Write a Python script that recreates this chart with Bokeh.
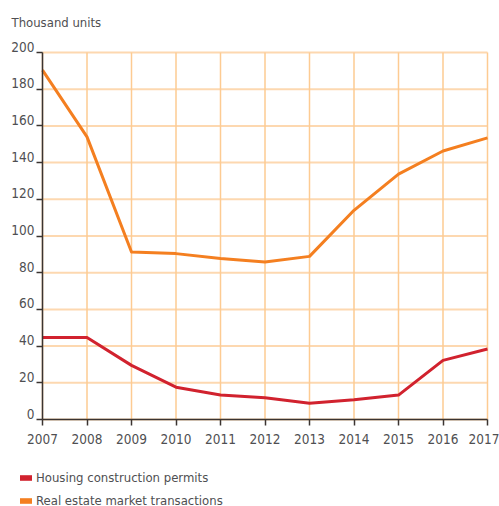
from bokeh.plotting import figure
from bokeh.models import (Range1d, ColumnDataSource, LabelSet, Label, Legend,
                          LegendItem, FixedTicker)
from bokeh.core.properties import value
from bokeh.embed import file_html
from bokeh.resources import INLINE

# Annual figures, thousand units
years = [2007, 2008, 2009, 2010, 2011, 2012, 2013, 2014, 2015, 2016, 2017]
permits = [44.7, 44.7, 29.5, 17.6, 13.3, 11.8, 8.9, 10.7, 13.3, 32.2, 38.4]
transactions = [190.4, 154.0, 91.3, 90.4, 87.7, 85.8, 88.9, 114.0, 133.7, 146.3, 153.5]

y_ticks = [0, 20, 40, 60, 80, 100, 120, 140, 160, 180, 200]
y_tick_labels = [str(t) for t in y_ticks]
unit_label = "Thousand units"
series_names = ["Housing construction permits", "Real estate market transactions"]

FONT = "DejaVu Sans Condensed, Liberation Sans Narrow, Roboto"
FS_TICK = "13.5px"
FS = "13px"
TEXT = "#4f4f52"
AXIS = "#3b3431"
GRID_V = "#fdcb92"
GRID_H = "#fdd8b0"
RED = "#d1222e"
ORANGE = "#f47f20"

# canvas size and the margins around the plotting area (pixels)
W, H = 499, 506
LEFT, RIGHT, TOP, BOTTOM = 42, 12, 52, 87

# The frame covers the whole canvas so that captions and the legend can sit
# in the margins; the data ranges are widened so the plotting area keeps
# its margins.
x0, x1 = years[0], years[-1]
y0, y1 = y_ticks[0], y_ticks[-1]
px_x = (W - LEFT - RIGHT) / (x1 - x0)
px_y = (H - TOP - BOTTOM) / (y1 - y0)
x_range = Range1d(x0 - LEFT / px_x, x1 + RIGHT / px_x)
y_range = Range1d(y0 - BOTTOM / px_y, y1 + TOP / px_y)

p = figure(width=W, height=H, output_backend="svg", toolbar_location=None,
           title=None, x_range=x_range, y_range=y_range,
           min_border_left=0, min_border_right=0, min_border_top=0,
           min_border_bottom=0)
p.outline_line_color = None
p.background_fill_color = "white"
p.border_fill_color = "white"
p.xgrid.visible = False
p.ygrid.visible = False

# grid lines limited to the plotting area
p.segment(x0=[x0] * len(y_ticks), y0=y_ticks, x1=[x1] * len(y_ticks), y1=y_ticks,
          line_color=GRID_H, line_width=2, level="underlay")
p.segment(x0=years, y0=[y0] * len(years), x1=years, y1=[y1] * len(years),
          line_color=GRID_V, line_width=1.5, level="underlay")

# axes pinned to the plotting area's edges
p.xaxis.fixed_location = y0
p.xaxis.bounds = (x0, x1)
p.yaxis.fixed_location = x0
p.yaxis.bounds = (y0, y1)
p.xaxis.ticker = FixedTicker(ticks=years)
p.yaxis.ticker = FixedTicker(ticks=y_ticks)
for ax in (p.xaxis, p.yaxis):
    ax.axis_line_color = AXIS
    ax.axis_line_width = 1.5
    ax.major_tick_line_color = AXIS
    ax.major_tick_line_width = 1.5
    ax.major_tick_out = 6
    ax.major_tick_in = 0
    ax.minor_tick_line_color = None
    ax.major_label_text_font = FONT
    ax.major_label_text_font_size = FS_TICK
    ax.major_label_text_color = TEXT
p.xaxis.major_label_standoff = 8
p.yaxis.major_label_overrides = {t: "" for t in y_ticks}

# y tick labels sit just above their tick marks
ysrc = ColumnDataSource(dict(x=[x0] * len(y_ticks), y=y_ticks, t=y_tick_labels))
p.add_layout(LabelSet(x="x", y="y", text="t", source=ysrc, x_offset=-8, y_offset=1,
                      text_align="right", text_baseline="alphabetic",
                      text_font=value(FONT), text_font_size=FS_TICK,
                      text_color=TEXT))

p.add_layout(Label(x=x0, y=y1, x_offset=-31, y_offset=30, text=unit_label,
                   text_align="left", text_baseline="middle",
                   text_font=FONT, text_font_size=FS, text_color=TEXT))

r1 = p.line(years, permits, line_color=RED, line_width=3, line_join="round")
r2 = p.line(years, transactions, line_color=ORANGE, line_width=3, line_join="round")

# swatches used as legend keys (no visible points of their own)
nan = float("nan")
k1 = p.rect(x=[nan], y=[nan], width=1, height=1, fill_color=RED, line_color=None)
k2 = p.rect(x=[nan], y=[nan], width=1, height=1, fill_color=ORANGE, line_color=None)

legend = Legend(items=[LegendItem(label=series_names[0], renderers=[k1]),
                       LegendItem(label=series_names[1], renderers=[k2])],
                location=(18, -3), orientation="vertical",
                glyph_width=15, glyph_height=7, label_height=18, spacing=5,
                label_standoff=3, padding=0, margin=0,
                border_line_color=None, background_fill_alpha=0,
                label_text_font=FONT, label_text_font_size=FS,
                label_text_color=TEXT)
p.add_layout(legend)

open("out.html", "w").write(file_html(p, INLINE))
